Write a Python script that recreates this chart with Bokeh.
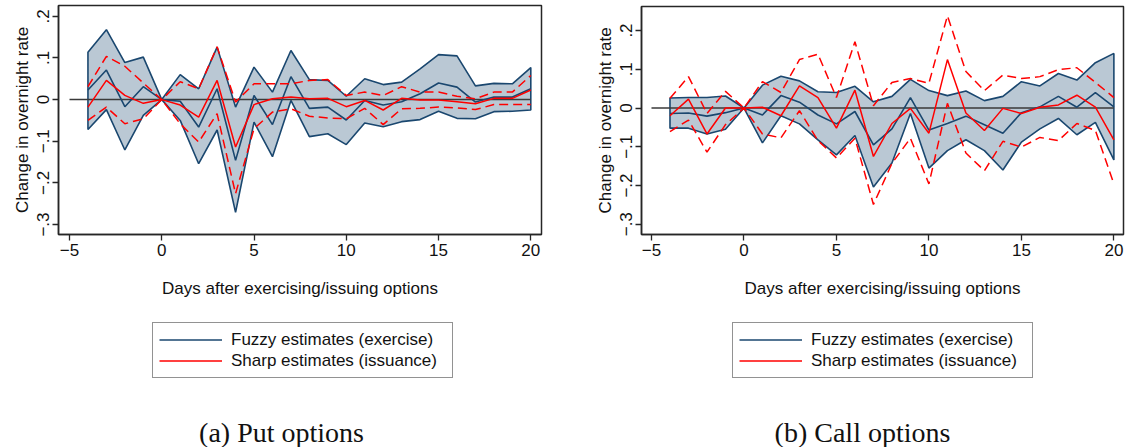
from bokeh.plotting import figure
from bokeh.layouts import row, column
from bokeh.models import (Legend, LegendItem, Label, FixedTicker,
                          CustomJSTickFormatter, Range1d)
from bokeh.embed import file_html
from bokeh.resources import INLINE

# ---------------- data ----------------
days = [-4, -3, -2, -1, 0, 1, 2, 3, 4, 5, 6, 7, 8, 9, 10,
        11, 12, 13, 14, 15, 16, 17, 18, 19, 20]
zero_x = [-5, 20]
zero_y = [0, 0]

x_ticks = [-5, 0, 5, 10, 15, 20]
y_ticks = [-0.3, -0.2, -0.1, 0, 0.1, 0.2]

x_title = "Days after exercising/issuing options"
y_title = "Change in overnight rate"
legend_labels = ["Fuzzy estimates (exercise)", "Sharp estimates (issuance)"]
captions = ["(a) Put options", "(b) Call options"]

# Put options
put_fuzzy_up = [0.114, 0.168, 0.089, 0.102, 0, 0.060, 0.026, 0.126, -0.018, 0.078,
                0.018, 0.118, 0.048, 0.046, 0.008, 0.050, 0.036, 0.042, 0.074, 0.108,
                0.105, 0.033, 0.039, 0.038, 0.077]
put_fuzzy_mid = [0.023, 0.071, -0.017, 0.031, 0, -0.004, -0.066, 0.026, -0.146, 0.010,
                 -0.060, 0.055, -0.021, -0.018, -0.049, -0.002, -0.013, -0.005, 0.014, 0.040,
                 0.030, -0.006, 0.006, 0.006, 0.026]
put_fuzzy_lo = [-0.072, -0.024, -0.121, -0.038, 0, -0.050, -0.154, -0.073, -0.271, -0.054,
                -0.137, -0.002, -0.089, -0.082, -0.108, -0.056, -0.065, -0.053, -0.048, -0.028,
                -0.045, -0.046, -0.029, -0.028, -0.025]
put_sharp_mid = [-0.018, 0.046, 0.010, -0.009, 0, -0.013, -0.042, 0.046, -0.114, -0.012,
                 0.002, 0.006, 0.002, 0.003, -0.017, -0.002, -0.025, 0.003, -0.001, -0.001,
                 -0.005, -0.010, 0.003, 0.003, 0.023]
put_sharp_up = [0.031, 0.104, 0.080, 0.040, 0, 0.043, 0.026, 0.127, -0.006, 0.038,
                0.038, 0.038, 0.046, 0.048, 0.010, 0.018, 0.010, 0.031, 0.018, 0.018,
                0.008, 0.002, 0.018, 0.018, 0.058]
put_sharp_lo = [-0.050, -0.018, -0.058, -0.046, 0, -0.058, -0.102, -0.034, -0.226, -0.070,
                -0.030, -0.022, -0.040, -0.044, -0.046, -0.021, -0.060, -0.022, -0.021, -0.018,
                -0.020, -0.024, -0.012, -0.012, -0.012]

# Call options
call_fuzzy_up = [0.026, 0.027, 0.027, 0.031, 0, 0.059, 0.082, 0.070, 0.042, 0.040,
                 0.056, 0.016, 0.030, 0.074, 0.045, 0.032, 0.044, 0.019, 0.030, 0.068,
                 0.057, 0.089, 0.072, 0.117, 0.141]
call_fuzzy_mid = [-0.014, -0.013, -0.021, -0.012, 0, -0.018, 0.032, 0.015, -0.018, -0.041,
                  -0.009, -0.095, -0.054, 0.027, -0.057, -0.040, -0.021, -0.043, -0.065, -0.012,
                  0.003, 0.030, 0.002, 0.040, 0.003]
call_fuzzy_lo = [-0.052, -0.052, -0.067, -0.055, 0, -0.090, -0.020, -0.041, -0.082, -0.121,
                 -0.071, -0.204, -0.142, -0.014, -0.155, -0.110, -0.082, -0.110, -0.160, -0.088,
                 -0.054, -0.027, -0.069, -0.037, -0.134]
call_sharp_mid = [-0.020, 0.023, -0.067, 0.000, 0, 0.002, -0.020, 0.057, 0.027, -0.052,
                  0.046, -0.125, -0.040, -0.001, -0.065, 0.125, -0.013, -0.058, -0.001, -0.014,
                  0.002, 0.008, 0.033, 0.002, -0.082]
call_sharp_up = [0.025, 0.081, -0.014, 0.043, 0, 0.068, 0.040, 0.125, 0.139, 0.027,
                 0.171, 0.006, 0.066, 0.076, 0.064, 0.238, 0.094, 0.045, 0.085, 0.076,
                 0.081, 0.099, 0.104, 0.066, 0.027]
call_sharp_lo = [-0.061, -0.031, -0.114, -0.043, 0, -0.067, -0.077, -0.007, -0.084, -0.129,
                 -0.078, -0.249, -0.143, -0.078, -0.196, 0.012, -0.116, -0.162, -0.086, -0.101,
                 -0.076, -0.084, -0.040, -0.058, -0.196]

# ---------------- style ----------------
NAVY = "#1a476f"
BAND = "#bac8d4"
RED = "#ff0000"
FRAME = "#262626"
SANS = "Liberation Sans"
SERIF = "Liberation Serif"
FS = "17px"
TOP_H = 305          # height of the chart part of each panel
TOTAL_H = 447
NAN = float("nan")


def panel(up, mid, lo, s_mid, s_up, s_lo, xr, yr, b_left, b_right, fw, top, fh,
          legend_x, caption, cap_x):
    p = figure(frame_width=fw, frame_height=fh, min_border_left=b_left,
               min_border_right=b_right, min_border_top=top,
               min_border_bottom=TOP_H - top - fh,
               x_range=Range1d(*xr), y_range=Range1d(*yr),
               output_backend="svg", toolbar_location=None, tools="")
    p.background_fill_color = "white"
    p.border_fill_color = "white"
    p.outline_line_color = FRAME
    p.outline_line_width = 1.5
    p.grid.visible = False

    # fuzzy confidence band (outline all round, as in Stata rarea)
    p.patch(x=days + days[::-1], y=up + lo[::-1], fill_color=BAND,
            line_color=NAVY, line_width=1.6)
    p.line(x=zero_x, y=zero_y, line_color="#3a3a3a", line_width=1.5)
    p.line(x=days, y=mid, line_color=NAVY, line_width=1.6)
    p.line(x=days, y=s_up, line_color=RED, line_width=1.5, line_dash="9 5")
    p.line(x=days, y=s_lo, line_color=RED, line_width=1.5, line_dash="9 5")
    p.line(x=days, y=s_mid, line_color=RED, line_width=1.5)

    for ax in (p.xaxis[0], p.yaxis[0]):
        ax.axis_line_color = FRAME
        ax.axis_line_width = 1.5
        ax.major_tick_line_color = FRAME
        ax.major_tick_line_width = 1.3
        ax.major_tick_out = 6
        ax.major_tick_in = 0
        ax.minor_tick_line_color = None
        ax.major_label_text_font = SANS
        ax.major_label_text_font_size = FS
        ax.major_label_text_color = "#111111"
        ax.axis_label_text_font = SANS
        ax.axis_label_text_font_size = FS
        ax.axis_label_text_font_style = "normal"
        ax.axis_label_text_color = "#111111"

    p.xaxis.ticker = FixedTicker(ticks=x_ticks)
    p.xaxis.formatter = CustomJSTickFormatter(
        code="return tick < 0 ? '\u2212' + Math.abs(tick) : String(tick);")
    p.xaxis.major_label_standoff = 3
    p.xaxis.axis_label = x_title
    p.xaxis.axis_label_standoff = 20

    p.yaxis.ticker = FixedTicker(ticks=y_ticks)
    p.yaxis.formatter = CustomJSTickFormatter(
        code="if (Math.abs(tick) < 1e-9) return '0';"
             "var s = '.' + Math.round(Math.abs(tick) * 10);"
             "return tick < 0 ? '\u2212' + s : s;")
    p.yaxis.major_label_orientation = "vertical"
    p.yaxis.major_label_standoff = 3
    p.yaxis.axis_label = y_title
    p.yaxis.axis_label_standoff = 3

    # ---- legend + caption strip below the chart (frame aligned with chart) ----
    q = figure(frame_width=fw, frame_height=TOTAL_H - TOP_H, min_border=0,
               min_border_left=b_left, min_border_right=b_right,
               x_range=Range1d(0, 1), y_range=Range1d(0, 1),
               x_axis_type=None, y_axis_type=None,
               output_backend="svg", toolbar_location=None, tools="")
    q.outline_line_color = None
    q.grid.visible = False
    q.background_fill_color = "white"
    q.border_fill_color = "white"
    # legend keys (same styles as the plotted series; no visible data)
    k_fuzzy = q.line(x=[NAN], y=[NAN], line_color=NAVY, line_width=1.6)
    k_sharp = q.line(x=[NAN], y=[NAN], line_color=RED, line_width=1.5)

    legend = Legend(items=[LegendItem(label=legend_labels[0], renderers=[k_fuzzy]),
                           LegendItem(label=legend_labels[1], renderers=[k_sharp])],
                    location=(legend_x, TOTAL_H - 378), orientation="vertical")
    legend.border_line_color = FRAME
    legend.border_line_width = 1.2
    legend.background_fill_color = "white"
    legend.background_fill_alpha = 1.0
    legend.padding = 6
    legend.margin = 0
    legend.spacing = 0
    legend.glyph_width = 63
    legend.glyph_height = 21
    legend.label_height = 21
    legend.label_width = 215
    legend.label_standoff = 9
    legend.label_text_font = SANS
    legend.label_text_font_size = FS
    legend.label_text_color = "#111111"
    q.add_layout(legend)

    q.add_layout(Label(x=cap_x, y=TOTAL_H - 432, x_units="screen", y_units="screen",
                       text=caption, text_align="center", text_baseline="middle",
                       text_font=SERIF, text_font_size="28px",
                       text_color="#111111"))
    return column(p, q, spacing=0)


left = panel(put_fuzzy_up, put_fuzzy_mid, put_fuzzy_lo,
             put_sharp_mid, put_sharp_up, put_sharp_lo,
             (-5.596, 20.58), (-0.324, 0.226), 58, 21, 483, 5, 229,
             94, captions[0], 223)
right = panel(call_fuzzy_up, call_fuzzy_mid, call_fuzzy_lo,
              call_sharp_mid, call_sharp_up, call_sharp_lo,
              (-5.54, 20.52), (-0.3265, 0.262), 79, 2, 482, 6, 228,
              91, captions[1], 221)

layout = row(left, right, spacing=0)
open("out.html", "w").write(file_html(layout, INLINE))
